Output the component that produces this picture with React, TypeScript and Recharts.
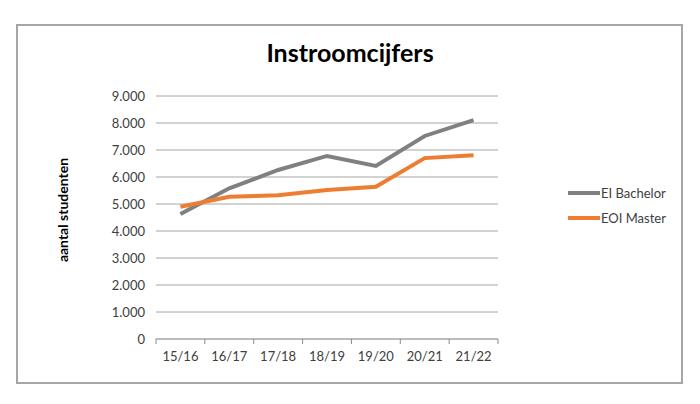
import {CartesianGrid, Line, LineChart, XAxis, YAxis} from "recharts";

const years = ["15/16", "16/17", "17/18", "18/19", "19/20", "20/21", "21/22"];
const bachelor = [4630, 5580, 6260, 6780, 6410, 7520, 8110];
const master = [4900, 5270, 5320, 5520, 5640, 6700, 6810];
const yTicks = [0, 1000, 2000, 3000, 4000, 5000, 6000, 7000, 8000, 9000];

const series = [
  {key: "bachelor", name: "EI Bachelor", color: "#808080"},
  {key: "master", name: "EOI Master", color: "#ed7d31"},
];

const data = years.map((year, i) => ({year, bachelor: bachelor[i], master: master[i]}));

const FONT = "Lato, 'Open Sans', sans-serif";
const TICK_GAP = 13;
const fmt = (v: number) => v === 0 ? "0" : v.toLocaleString("nl-NL");

// category label plus Excel-style tick marks on the band edges
const YearTick = ({x, y, payload, index}: any) => {
  const half = payload?.offset ?? 24.5;
  const top = y - TICK_GAP;
  const last = index === years.length - 1;
  return <g>
    <line x1={x - half} x2={x - half} y1={top} y2={top + 5} stroke="#8c8c8c"/>
    {last && <line x1={x + half} x2={x + half} y1={top} y2={top + 5} stroke="#8c8c8c"/>}
    <text x={x} y={y} dy="0.71em" textAnchor="middle" fontFamily={FONT} fontSize={13} fill="#404040">
      {payload.value}
    </text>
  </g>;
};

export default function App() {
  return <div style={{position: "absolute", left: 0, top: 0, width: 700, height: 404, background: "#fff"}}>
    <div style={{
      position: "absolute", left: 16, top: 24, width: 663, height: 356,
      border: "2px solid #a6a6a6", boxSizing: "content-box",
    }}/>
    <div style={{
      position: "absolute", left: 0, width: 700, top: 37, textAlign: "center",
      fontFamily: FONT, fontWeight: 700, fontSize: 25, color: "#000",
    }}>Instroomcijfers
    </div>
    <div style={{
      position: "absolute", left: 62, top: 210, transform: "translate(-50%, -50%) rotate(-90deg)",
      fontFamily: FONT, fontWeight: 700, fontSize: 14, color: "#000", whiteSpace: "nowrap",
    }}>aantal studenten
    </div>
    <LineChart width={700} height={404} data={data}
               margin={{top: 96, right: 202, bottom: 35, left: 116}}
               style={{position: "absolute", left: 0, top: 0}}>
      <CartesianGrid vertical={false} stroke="#a6a6a6" strokeWidth={1}/>
      <XAxis dataKey="year" scale="band" height={30} axisLine={{stroke: "#a6a6a6"}}
             tickLine={false} tickSize={0} tickMargin={TICK_GAP} tick={<YearTick/>} interval={0}/>
      <YAxis width={40} domain={[0, 9000]} ticks={yTicks} tickFormatter={fmt} axisLine={false}
             tickLine={false} tickMargin={5} tick={{fontFamily: FONT, fontSize: 13, fill: "#404040"}}/>
      {series.map(s => <Line key={s.key} dataKey={s.key} name={s.name} stroke={s.color}
                             strokeWidth={4} dot={false} isAnimationActive={false}/>)}
    </LineChart>
    <div style={{position: "absolute", left: 568, top: 180, fontFamily: FONT, fontSize: 13, color: "#404040"}}>
      {series.map(s => <div key={s.key} style={{display: "flex", alignItems: "center", height: 25}}>
        <span style={{display: "inline-block", width: 32, height: 4, background: s.color, marginRight: 1}}/>
        {s.name}
      </div>)}
    </div>
  </div>;
}
